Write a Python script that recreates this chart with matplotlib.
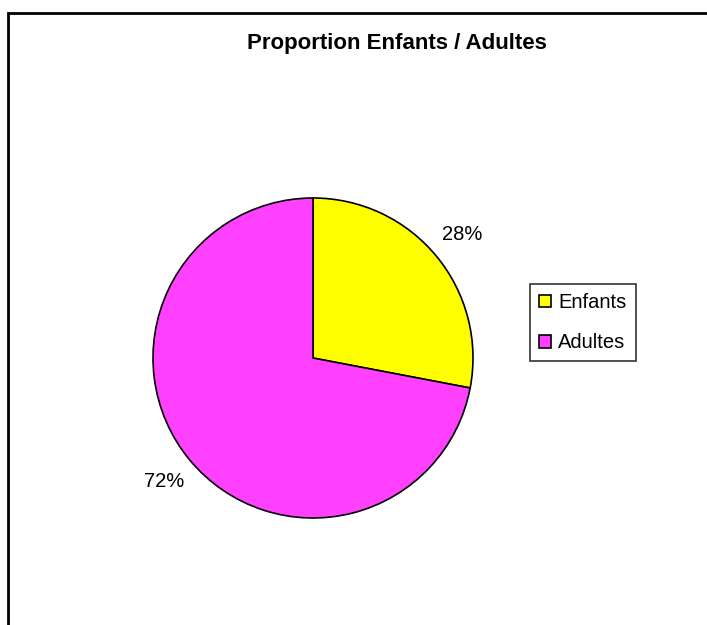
import matplotlib.pyplot as plt
from matplotlib.patches import Rectangle

categories = ['Enfants', 'Adultes']
values = [28, 72]
colors = ['#ffff00', '#ff40ff']

W, H = 707, 625
fig = plt.figure(figsize=(W / 100, H / 100), dpi=100)
ax = fig.add_axes([0, 0, 1, 1])
ax.set_xlim(0, W)
ax.set_ylim(0, H)
ax.set_aspect('equal')
ax.axis('off')

plt.rcParams['font.family'] = ['Liberation Sans', 'DejaVu Sans']

# cadre du graphique
ax.add_patch(Rectangle((8, -20), 760, H - 13 + 20, fill=False, lw=2, ec='black'))

wedges, texts, autotexts = ax.pie(
    values, colors=colors, startangle=90, counterclock=False,
    center=(313, H - 358), radius=160, autopct='%1.0f%%', pctdistance=1.21,
    wedgeprops=dict(edgecolor='black', linewidth=1.2),
    textprops=dict(fontsize=14.5, color='black'))

ax.set_xlim(0, W)
ax.set_ylim(0, H)

ax.text(397, H - 43, 'Proportion Enfants / Adultes', ha='center', va='center',
        fontsize=16, fontweight='bold')

leg = ax.legend(wedges, categories, loc='upper left',
                bbox_to_anchor=(530 / W, 1 - 284 / H), fontsize=14.5,
                frameon=True, fancybox=False, edgecolor='black',
                handlelength=0.6, handleheight=0.6, handletextpad=0.35,
                labelspacing=1.05, borderpad=0.45, borderaxespad=0)
leg.get_frame().set_linewidth(1.2)

fig.savefig('out.png', dpi=100)
